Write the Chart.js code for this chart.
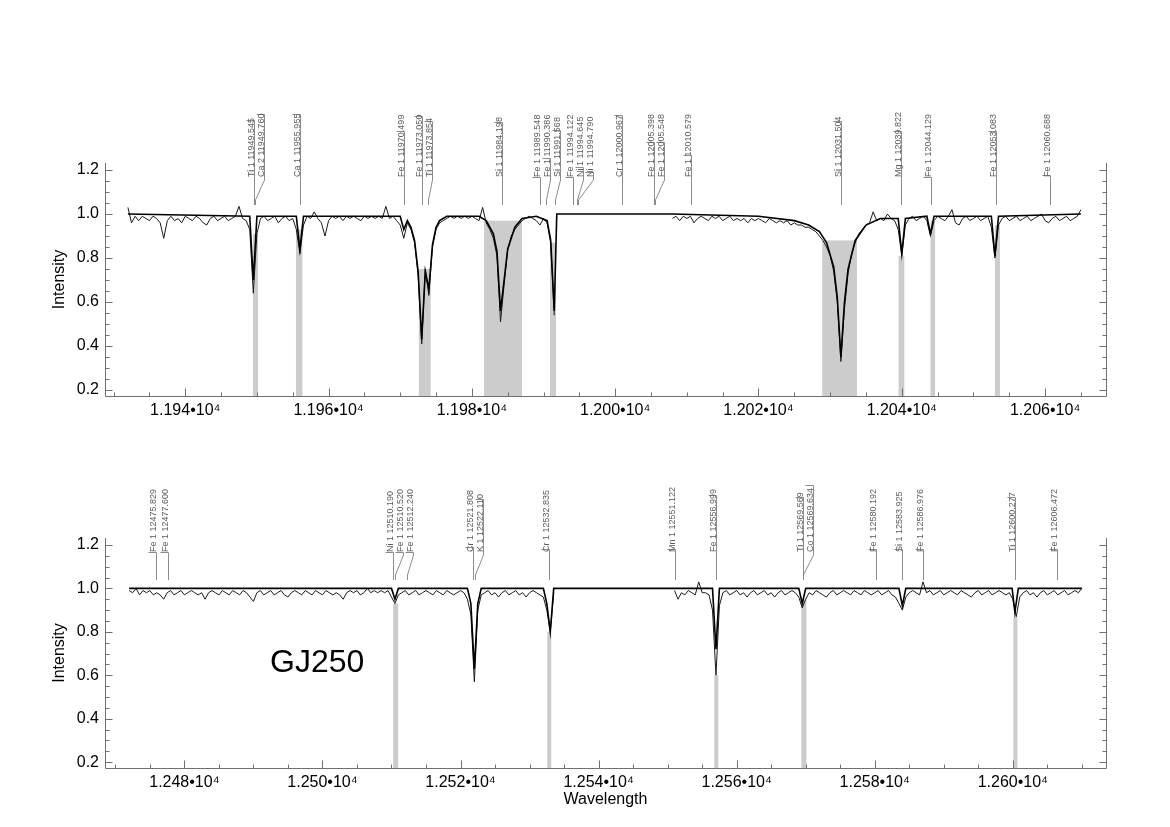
<!DOCTYPE html>
<html>
<head>
<meta charset="utf-8">
<script src="https://cdn.jsdelivr.net/npm/chart.js@4.4.1/dist/chart.umd.min.js"></script>
<style>
html, body { margin: 0; padding: 0; background: #fff; }
#wrap { position: relative; width: 1170px; height: 827px; }
.panel { position: absolute; left: 0; width: 1170px; }
</style>
</head>
<body>
<div id="wrap">
  <div class="panel" style="top:0;height:430px"><canvas id="topChart" width="1170" height="430"></canvas></div>
  <div class="panel" style="top:430px;height:397px"><canvas id="bottomChart" width="1170" height="397"></canvas></div>
</div>
<script>
// observed spectra are sampled every 0.5 A
const OBS_STEP = 0.5;

// ---- upper panel (1.193-1.207e4 A) ----
const topObsStartA = 11932.0;
const topObsA = [
  1.03, 0.96, 0.99, 0.97, 0.99, 0.98, 0.97, 0.99, 0.98, 0.96,
  0.89, 0.97, 0.99, 0.97, 0.98, 0.96, 0.99, 0.98, 0.97, 0.99,
  0.98, 0.96, 0.95, 0.98, 0.99, 0.97, 0.98, 0.99, 0.97, 0.98,
  0.99, 1.035, 0.98, 0.97, 0.93, 0.64, 0.91, 0.98, 0.99, 0.97,
  0.98, 0.99, 0.96, 0.98, 0.99, 0.97, 0.98, 0.93, 0.82, 0.95,
  0.99, 0.98, 1.01, 0.98, 0.96, 0.90, 0.97, 0.99, 0.98, 0.99,
  0.97, 0.99, 0.98, 0.99, 0.98, 0.97, 0.99, 0.98, 0.99, 0.98,
  0.99, 0.98, 1.035, 0.98, 0.99, 0.97, 0.95, 0.89, 0.96, 0.93,
  0.87, 0.72, 0.41, 0.75, 0.63, 0.85, 0.93, 0.96, 0.97, 0.98,
  0.99, 0.98, 0.99, 0.98, 0.99, 0.98, 0.99, 0.98, 0.97, 1.03,
  0.96, 0.93, 0.89, 0.81, 0.51, 0.68, 0.84, 0.90, 0.93, 0.95,
  0.97, 0.98, 0.99, 0.98, 0.97, 0.95, 0.98, 0.96, 0.87, 0.54
];
const topObsStartB = 12008.0;
const topObsB = [
  0.98, 0.99, 0.97, 0.99, 0.98, 0.99, 0.96, 0.98, 0.99, 0.98,
  0.97, 0.99, 0.98, 0.99, 0.97, 0.98, 0.99, 0.97, 0.98, 0.97,
  0.98, 0.96, 0.98, 0.97, 0.98, 0.97, 0.96, 0.98, 0.97, 0.96,
  0.97, 0.96, 0.97, 0.95, 0.96, 0.95, 0.95, 0.94, 0.94, 0.93,
  0.92, 0.90, 0.88, 0.85, 0.81, 0.74, 0.60, 0.33, 0.57, 0.73,
  0.82, 0.87, 0.91, 0.93, 0.95, 0.96, 1.01, 0.97, 0.98, 0.97,
  1.00, 0.98, 0.97, 0.93, 0.81, 0.95, 0.98, 0.99, 0.97, 0.98,
  0.99, 0.97, 0.90, 0.97, 0.99, 0.98, 0.97, 0.99, 1.02, 0.96,
  0.95, 0.98, 0.99, 0.97, 0.98, 0.99, 0.97, 0.98, 0.99, 0.94,
  0.80, 0.95, 0.98, 0.99, 0.97, 0.98, 0.99, 0.97, 0.98, 0.99,
  0.97, 0.98, 0.99, 1.00, 0.97, 0.96, 0.98, 0.99, 0.97, 0.98,
  0.99, 0.97, 0.98, 0.99, 1.02
];
const topModelWave = [
  11932.0, 11949.0, 11949.5, 11950.0, 11955.5, 11956.0, 11956.5, 11970.0, 11970.5, 11971.0,
  11971.5, 11972.0, 11972.5, 11973.0, 11973.5, 11974.0, 11974.5, 11975.0, 11975.5, 11976.5,
  11981.0, 11982.0, 11983.0, 11983.5, 11984.0, 11984.5, 11985.0, 11986.0, 11987.0, 11989.0,
  11990.5, 11991.0, 11991.5, 11991.85, 12008.0, 12020.0, 12025.0, 12027.0, 12028.5,
  12029.5, 12030.5, 12031.0, 12031.5, 12032.0, 12032.5, 12033.5, 12035.0, 12037.0, 12039.5,
  12040.0, 12040.5, 12043.5, 12044.0, 12044.5, 12052.5, 12053.0, 12053.5, 12065.0
];
const topModelFlux = [
  1.00, 0.99, 0.70, 0.99, 0.99, 0.84, 0.99, 0.99, 0.93, 0.97,
  0.94, 0.88, 0.74, 0.43, 0.74, 0.66, 0.86, 0.94, 0.97, 0.99,
  0.99, 0.97, 0.91, 0.83, 0.56, 0.70, 0.84, 0.94, 0.98, 0.99,
  0.97, 0.88, 0.56, 1.00, 1.00, 0.99, 0.97, 0.95, 0.92,
  0.87, 0.76, 0.62, 0.35, 0.60, 0.75, 0.88, 0.95, 0.98, 0.98,
  0.82, 0.98, 0.99, 0.91, 0.99, 0.99, 0.81, 0.99, 1.00
];
const topMaskLo = [11949.45, 11955.45, 11972.6, 11981.7, 11990.9, 12028.9, 12039.55, 12044.0, 12053.0];
const topMaskHi = [11950.15, 11956.35, 11974.25, 11987.0, 11991.75, 12033.75, 12040.35, 12044.65, 12053.7];
const topLineIons = ['Ti 1', 'Ca 2', 'Ca 1', 'Fe 1', 'Fe 1', 'Ti 1', 'Si 1', 'Fe 1', 'Fe 1', 'Si 1', 'Fe 1',
  'Ni 1', 'Ni 1', 'Cr 1', 'Fe 1', 'Fe 1', 'Fe 1', 'Si 1', 'Mg 1', 'Fe 1', 'Fe 1', 'Fe 1'];
const topLineWaves = [11949.545, 11949.760, 11955.955, 11970.499, 11973.050, 11973.854, 11984.198, 11989.548,
  11990.386, 11991.568, 11994.122, 11994.645, 11994.790, 12000.967, 12005.398, 12005.548, 12010.579,
  12031.504, 12039.822, 12044.129, 12053.083, 12060.688];
// relative strength marker drawn beside each identification (0 = none, 1 = full label length)
const topLineStrength = [0.97, 1.0, 1.0, 0.73, 0.97, 0.95, 0.92, 0.0, 0.3, 0.79, 0.0,
  0.16, 0.08, 1.0, 0.55, 0.55, 0.35, 0.92, 0.71, 0.0, 0.73, 0.03];
const topXTicks = [11940, 11960, 11980, 12000, 12020, 12040, 12060];
const topXRange = [11928.8, 12068.5];

// ---- lower panel (1.247-1.261e4 A) ----
const botObsStartA = 12472.0;
const botObsA = [
  0.99, 0.98, 1.00, 0.97, 0.99, 0.98, 0.99, 0.97, 0.98, 0.97,
  0.95, 0.98, 0.99, 0.97, 0.98, 0.99, 0.97, 0.98, 0.99, 0.98,
  0.97, 0.98, 0.95, 0.98, 0.99, 0.98, 0.97, 0.99, 0.98, 0.97,
  0.99, 0.98, 0.97, 0.99, 0.98, 0.96, 0.94, 0.98, 0.99, 0.97,
  0.98, 0.99, 0.97, 0.98, 0.99, 0.97, 0.96, 0.98, 0.99, 0.98,
  0.97, 0.99, 0.98, 0.97, 0.99, 0.98, 0.97, 0.99, 0.98, 0.97,
  0.98, 0.97, 0.95, 0.98, 0.99, 0.98, 0.99, 0.97, 0.98, 1.00,
  0.98, 0.99, 0.98, 0.99, 0.98, 0.99, 0.96, 0.93, 0.97, 0.98,
  0.99, 0.97, 0.98, 0.99, 0.97, 0.98, 0.99, 0.98, 0.97, 0.99,
  0.98, 0.97, 0.99, 0.98, 0.97, 0.98, 0.99, 0.98, 0.95, 0.88,
  0.57, 0.90, 0.97, 0.98, 0.99, 0.97, 0.98, 0.96, 0.98, 0.99,
  0.97, 0.98, 0.99, 0.97, 0.98, 0.96, 0.98, 0.99, 0.98, 0.97,
  0.96, 0.90, 0.80, 0.98
];
const botObsStartB = 12551.0;
const botObsB = [
  0.99, 0.95, 0.98, 0.97, 0.99, 0.98, 0.97, 1.03, 0.98, 0.98,
  0.97, 0.90, 0.60, 0.92, 0.98, 0.99, 0.97, 0.98, 0.99, 0.97,
  0.98, 0.96, 0.98, 0.99, 0.97, 0.98, 0.99, 0.97, 0.98, 0.96,
  0.98, 0.99, 0.97, 0.98, 0.99, 0.98, 0.96, 0.91, 0.95, 0.98,
  0.97, 0.99, 0.98, 0.97, 0.96, 0.98, 0.99, 0.97, 0.98, 0.99,
  0.98, 0.97, 0.99, 0.98, 0.97, 0.99, 0.98, 0.97, 0.98, 0.99,
  0.97, 0.98, 0.99, 0.97, 0.96, 0.93, 0.90, 0.96, 0.98, 0.99,
  0.98, 0.97, 1.03, 0.98, 0.99, 0.97, 0.98, 0.99, 0.97, 0.98,
  0.99, 0.98, 0.97, 0.99, 0.98, 0.97, 0.96, 0.98, 0.99, 0.97,
  0.98, 0.99, 0.97, 0.98, 0.99, 0.98, 0.97, 0.98, 0.95, 0.87,
  0.96, 0.98, 0.99, 0.97, 0.98, 0.96, 0.98, 0.99, 0.97, 0.98,
  0.99, 0.97, 0.98, 0.99, 0.97, 0.98, 0.99, 0.98, 1.00
];
const botModelWave = [
  12472.0, 12510.0, 12510.5, 12511.0, 12521.0, 12521.5, 12522.0, 12522.5, 12523.0, 12532.0,
  12532.5, 12533.0, 12533.5, 12556.5, 12557.0, 12557.5, 12569.0, 12569.5, 12570.0, 12583.5,
  12584.0, 12584.5, 12599.9, 12600.3, 12600.8, 12610.0
];
const botModelFlux = [
  1.00, 1.00, 0.95, 1.00, 1.00, 0.93, 0.63, 0.93, 1.00, 1.00,
  0.93, 0.80, 1.00, 1.00, 0.72, 1.00, 1.00, 0.93, 1.00, 1.00,
  0.92, 1.00, 1.00, 0.89, 1.00, 1.00
];
const botMaskLo = [12510.24, 12532.56, 12556.76, 12569.37, 12600.09];
const botMaskHi = [12510.96, 12533.14, 12557.34, 12570.10, 12600.67];
const botLineIons = ['Fe 1', 'Fe 1', 'Ni 1', 'Fe 1', 'Fe 1', 'Cr 1', 'K 1', 'Cr 1', 'Mn 1', 'Fe 1', 'Ti 1',
  'Co 1', 'Fe 1', 'Si 1', 'Fe 1', 'Ti 1', 'Fe 1'];
const botLineWaves = [12475.829, 12477.600, 12510.190, 12510.520, 12512.240, 12521.808, 12522.110, 12532.835,
  12551.122, 12556.999, 12569.569, 12569.634, 12580.192, 12583.925, 12586.976, 12600.277, 12606.472];
const botLineStrength = [0.0, 0.0, 0.0, 0.0, 0.0, 0.08, 0.92, 0.05, 0.05, 0.9, 0.92,
  1.05, 0.05, 0.05, 0.05, 0.92, 0.05];
const botXTicks = [12480, 12500, 12520, 12540, 12560, 12580, 12600];
const botXRange = [12468.5, 12613.5];
const starName = 'GJ250';

// ---- shared ----
const yTicks = [0.2, 0.4, 0.6, 0.8, 1.0, 1.2];
const yRange = [0.173, 1.232];

const FONT = '"Liberation Sans", Arial, Helvetica, sans-serif';

function obsPoints(startA, a, startB, b) {
  const pts = a.map((v, i) => ({ x: startA + i * OBS_STEP, y: v }));
  pts.push({ x: startA + a.length * OBS_STEP, y: null });
  return pts.concat(b.map((v, i) => ({ x: startB + i * OBS_STEP, y: v })));
}

function modelPoints(w, f) {
  return w.map((v, i) => ({ x: v, y: f[i] }));
}

// grey fitting windows: block from the axis up to the highest observed point inside the window
function drawMasks(chart, lo, hi) {
  const { ctx, chartArea: a, scales: { x } } = chart;
  const pts = chart.getDatasetMeta(1).data.filter(p => !p.skip);
  ctx.save();
  ctx.fillStyle = '#cccccc';
  lo.forEach((l, i) => {
    const x0 = x.getPixelForValue(l), x1 = x.getPixelForValue(hi[i]);
    const inside = pts.filter(p => p.x >= x0 && p.x <= x1);
    const top = inside.length ? Math.min(...inside.map(p => p.y)) : a.bottom;
    ctx.fillRect(x0, top, x1 - x0, a.bottom - top);
  });
  ctx.restore();
}

function drawAxes(chart) {
  const { ctx, chartArea: a, scales: { x, y } } = chart;
  const L = Math.round(a.left) + 0.5, R = Math.round(a.right) + 0.5, B = Math.round(a.bottom) + 0.5;
  ctx.save();
  ctx.strokeStyle = '#707070';
  ctx.lineWidth = 1;
  ctx.beginPath();
  ctx.moveTo(L, a.top); ctx.lineTo(L, B); ctx.lineTo(R, B); ctx.lineTo(R, a.top);
  for (let w = Math.ceil(x.min / 5) * 5; w <= x.max; w += 5) {
    const px = Math.round(x.getPixelForValue(w)) + 0.5;
    const len = w % 20 === 0 ? 8 : 4;
    ctx.moveTo(px, B); ctx.lineTo(px, B - len);
  }
  for (let k = Math.ceil(y.min / 0.05); k * 0.05 <= y.max; k++) {
    const py = Math.round(y.getPixelForValue(k * 0.05)) + 0.5;
    const len = k % 4 === 0 ? 7 : 4;
    ctx.moveTo(L, py); ctx.lineTo(L + len, py);
    ctx.moveTo(R, py); ctx.lineTo(R - len, py);
  }
  ctx.stroke();
  ctx.restore();
}

// vertical line identifications above the spectrum
function drawLineLabels(chart, ions, waves, strength) {
  const { ctx, chartArea: a, scales: { x } } = chart;
  const xs = waves.map(w => Math.round(x.getPixelForValue(w)) + 0.5);
  const lx = [];
  xs.forEach((v, i) => lx.push(i && v < lx[i - 1] + 9.5 ? Math.round(lx[i - 1] + 9.5) + 0.5 : v));
  const yText = a.top + 14, yB0 = a.top + 17, yB1 = a.top + 37, yEnd = a.top + 42;
  ctx.save();
  ctx.strokeStyle = '#8c8c8c';
  ctx.fillStyle = '#5c5c5c';
  ctx.lineWidth = 1;
  ctx.font = '9px ' + FONT;
  ctx.textBaseline = 'alphabetic';
  waves.forEach((w, i) => {
    const txt = ions[i] + ' ' + w.toFixed(3);
    const yTop = Math.round(yText - strength[i] * ctx.measureText(txt).width) + 0.5;
    ctx.beginPath();
    ctx.moveTo(lx[i] - 8, yTop);
    ctx.lineTo(lx[i], yTop);
    ctx.lineTo(lx[i], yB0);
    ctx.lineTo(xs[i], yB1);
    ctx.lineTo(xs[i], yEnd);
    ctx.stroke();
    ctx.save();
    ctx.translate(lx[i] - 1, yText);
    ctx.rotate(-Math.PI / 2);
    ctx.fillText(txt, 0, 0);
    ctx.restore();
  });
  ctx.restore();
}

const decor = {
  id: 'decor',
  beforeDatasetsDraw(chart, args, opts) {
    drawMasks(chart, opts.maskLo, opts.maskHi);
  },
  afterDraw(chart, args, opts) {
    drawAxes(chart);
    drawLineLabels(chart, opts.ions, opts.waves, opts.strength);
    if (opts.name) {
      const { ctx, chartArea: a } = chart;
      ctx.save();
      ctx.fillStyle = '#000';
      ctx.font = '32px ' + FONT;
      ctx.textBaseline = 'middle';
      ctx.fillText(opts.name, a.left + 165, chart.scales.y.getPixelForValue(0.655));
      ctx.restore();
    }
  }
};

function makePanel(id, cfg) {
  const canvas = document.getElementById(id);
  return new Chart(canvas.getContext('2d'), {
    type: 'line',
    data: {
      datasets: [
        { label: 'model', data: cfg.model, borderColor: '#000', borderWidth: 1.6, pointRadius: 0, tension: 0 },
        { label: 'observed', data: cfg.obs, borderColor: '#1a1a1a', borderWidth: 1, pointRadius: 0, tension: 0, spanGaps: false }
      ]
    },
    options: {
      responsive: false,
      animation: false,
      events: [],
      layout: { padding: { left: 0, right: 64, top: cfg.areaTop, bottom: 0 } },
      plugins: {
        legend: { display: false },
        tooltip: { enabled: false },
        decor: { maskLo: cfg.maskLo, maskHi: cfg.maskHi, ions: cfg.ions, waves: cfg.waves, strength: cfg.strength, name: cfg.name }
      },
      scales: {
        x: {
          type: 'linear',
          min: cfg.xRange[0],
          max: cfg.xRange[1],
          afterFit: s => { s.height = cfg.xAxisH; },
          afterBuildTicks: s => { s.ticks = cfg.xTicks.map(v => ({ value: v })); },
          grid: { display: false, drawTicks: false },
          border: { display: false },
          ticks: {
            padding: 5,
            color: '#000',
            maxRotation: 0,
            autoSkip: false,
            font: { family: FONT, size: 16 },
            callback: v => (v / 1e4).toFixed(3) + '\u202210\u2074'
          },
          title: {
            display: !!cfg.xTitle,
            text: cfg.xTitle || '',
            color: '#000',
            font: { family: FONT, size: 16 },
            padding: { top: 0, bottom: 18 }
          }
        },
        y: {
          min: yRange[0],
          max: yRange[1],
          afterFit: s => { s.width = 105; },
          afterBuildTicks: s => { s.ticks = yTicks.map(v => ({ value: v })); },
          grid: { display: false, drawTicks: false },
          border: { display: false },
          ticks: {
            padding: 6,
            color: '#000',
            font: { family: FONT, size: 16 },
            callback: v => v.toFixed(1)
          },
          title: {
            display: true,
            text: 'Intensity',
            color: '#000',
            font: { family: FONT, size: 16 },
            padding: { top: 50, bottom: 0 }
          }
        }
      }
    },
    plugins: [decor]
  });
}

makePanel('topChart', {
  obs: obsPoints(topObsStartA, topObsA, topObsStartB, topObsB),
  model: modelPoints(topModelWave, topModelFlux),
  maskLo: topMaskLo, maskHi: topMaskHi,
  ions: topLineIons, waves: topLineWaves, strength: topLineStrength,
  xTicks: topXTicks, xRange: topXRange,
  areaTop: 163, xAxisH: 34
});

makePanel('bottomChart', {
  obs: obsPoints(botObsStartA, botObsA, botObsStartB, botObsB),
  model: modelPoints(botModelWave, botModelFlux),
  maskLo: botMaskLo, maskHi: botMaskHi,
  ions: botLineIons, waves: botLineWaves, strength: botLineStrength,
  xTicks: botXTicks, xRange: botXRange,
  areaTop: 108, xAxisH: 59,
  xTitle: 'Wavelength',
  name: starName
});
</script>
</body>
</html>
